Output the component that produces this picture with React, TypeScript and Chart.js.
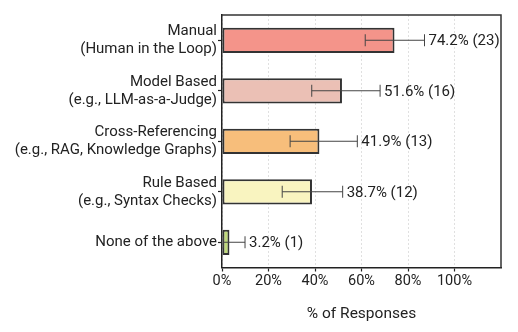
import React, { useEffect, useRef } from "react";
import { Chart, registerables } from "chart.js";

Chart.register(...registerables);

const categories: string[][] = [
  ["Manual", "(Human in the Loop)"],
  ["Model Based", "(e.g., LLM-as-a-Judge)"],
  ["Cross-Referencing", "(e.g., RAG, Knowledge Graphs)"],
  ["Rule Based", "(e.g., Syntax Checks)"],
  ["None of the above"],
];
const percents = [74.2, 51.6, 41.9, 38.7, 3.2];
const counts = [23, 16, 13, 12, 1];
const ciLower = [61.6, 38.6, 29.3, 25.9, 0.6];
const ciUpper = [87.1, 68.0, 58.2, 51.9, 9.9];
const barColors = ["#F4948A", "#EBC0B5", "#F7BE7B", "#F9F4C0", "#C0DA7A"];
const xTicks = [0, 20, 40, 60, 80, 100];

const FONT = "Roboto, 'DejaVu Sans', sans-serif";
const TEXT = "#222";

const overlayPlugin = {
  id: "overlay",
  afterDatasetsDraw(chart: any) {
    const ctx = chart.ctx;
    const xs = chart.scales.x;
    const meta = chart.getDatasetMeta(0);
    ctx.save();
    ctx.strokeStyle = "#444";
    ctx.lineWidth = 1;
    meta.data.forEach((bar: any, i: number) => {
      const y = bar.y;
      const x1 = xs.getPixelForValue(ciLower[i]);
      const x2 = xs.getPixelForValue(ciUpper[i]);
      ctx.beginPath();
      ctx.moveTo(x1, y);
      ctx.lineTo(x2, y);
      ctx.moveTo(x1, y - 6);
      ctx.lineTo(x1, y + 6);
      ctx.moveTo(x2, y - 6);
      ctx.lineTo(x2, y + 6);
      ctx.stroke();
      ctx.fillStyle = TEXT;
      ctx.font = `15px ${FONT}`;
      ctx.textBaseline = "middle";
      ctx.textAlign = "left";
      ctx.fillText(`${percents[i].toFixed(1)}% (${counts[i]})`, x2 + 4, y + 1);
    });
    ctx.restore();
  },
  afterDraw(chart: any) {
    const { left, right, top, bottom } = chart.chartArea;
    const ctx = chart.ctx;
    ctx.save();
    ctx.strokeStyle = "#333";
    ctx.lineWidth = 1.5;
    ctx.beginPath();
    ctx.moveTo(left, top);
    ctx.lineTo(right, top);
    ctx.lineTo(right, bottom);
    ctx.stroke();
    ctx.restore();
  },
};

export default function App() {
  const ref = useRef<HTMLCanvasElement>(null);
  useEffect(() => {
    document.body.style.margin = "0";
    const chart = new Chart(ref.current!, {
      type: "bar",
      data: {
        labels: categories,
        datasets: [
          {
            data: percents,
            backgroundColor: barColors,
            borderColor: "#333",
            borderWidth: 2,
            borderSkipped: false,
            barPercentage: 0.5,
            categoryPercentage: 1,
          },
        ],
      },
      options: {
        indexAxis: "y",
        animation: false,
        responsive: false,
        maintainAspectRatio: false,
        layout: { padding: { top: 15, right: 17, left: 0, bottom: 0 } },
        plugins: { legend: { display: false }, tooltip: { enabled: false } },
        scales: {
          x: {
            min: 0,
            max: 120,
            afterBuildTicks: (scale: any) => {
              scale.ticks = xTicks.map((v) => ({ value: v }));
            },
            afterFit: (scale: any) => {
              scale.height = 64.5;
            },
            ticks: {
              callback: (v: any) => `${v}%`,
              color: TEXT,
              font: { family: FONT, size: 14.5 },
              padding: 1,
              maxRotation: 0,
            },
            grid: {
              color: "#e0e0e0",
              lineWidth: 1,
              tickColor: "#222",
              tickLength: 4,
              tickWidth: 1.2,
            },
            border: { display: true, color: "#222", width: 1.5, dash: [2, 2] },
            title: {
              display: true,
              text: "% of Responses",
              color: TEXT,
              font: { family: FONT, size: 15.5 },
              padding: { top: 0, bottom: 9 },
            },
          },
          y: {
            afterFit: (scale: any) => {
              scale.width = 222;
            },
            ticks: {
              color: TEXT,
              font: { family: FONT, size: 15, lineHeight: 1.2 },
              padding: 1,
            },
            grid: {
              offset: false,
              drawOnChartArea: false,
              tickColor: "#222",
              tickLength: 4,
              tickWidth: 1.2,
            },
            border: { display: true, color: "#222", width: 1.5 },
          },
        },
      },
      plugins: [overlayPlugin],
    } as any);
    return () => chart.destroy();
  }, []);
  return (
    <div style={{ width: 518, height: 332 }}>
      <canvas ref={ref} width={518} height={332} style={{ width: 518, height: 332 }} />
    </div>
  );
}
